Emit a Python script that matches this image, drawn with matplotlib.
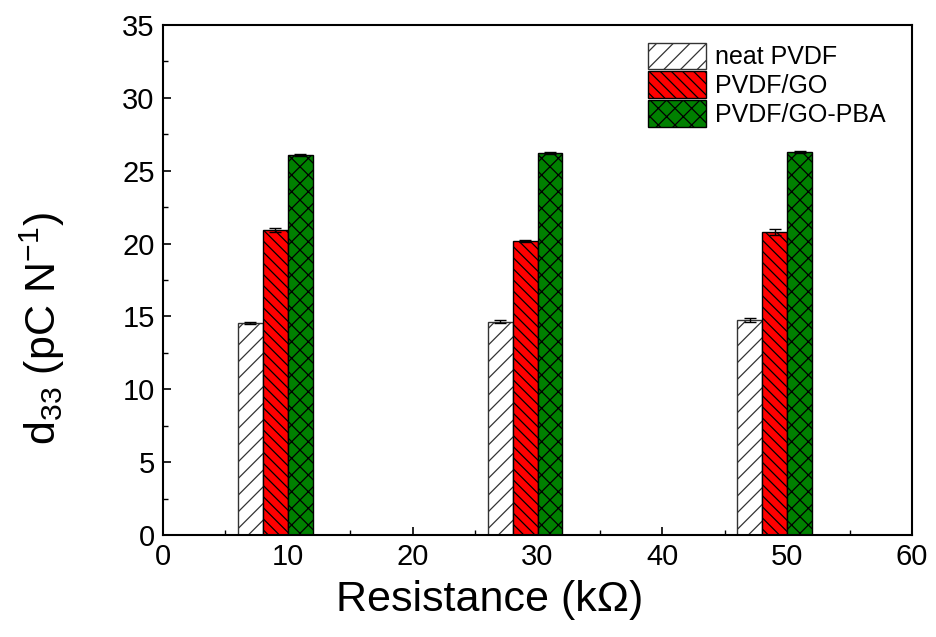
import matplotlib
matplotlib.use("Agg")
import matplotlib.pyplot as plt
import numpy as np

plt.rcParams['font.family'] = ['Liberation Sans', 'DejaVu Sans']
plt.rcParams['mathtext.fontset'] = 'custom'
plt.rcParams['mathtext.rm'] = 'Liberation Sans'
plt.rcParams['mathtext.it'] = 'Liberation Sans'
plt.rcParams['hatch.linewidth'] = 0.9

resistance = [10, 30, 50]
series_names = ['neat PVDF', 'PVDF/GO', 'PVDF/GO-PBA']
neat_pvdf = [14.55, 14.65, 14.75]
pvdf_go = [20.95, 20.2, 20.8]
pvdf_go_pba = [26.1, 26.2, 26.3]
err_neat = [0.08, 0.1, 0.11]
err_go = [0.15, 0.07, 0.2]
err_pba = [0.08, 0.08, 0.08]

fig = plt.figure(figsize=(9.37, 6.37), dpi=100)
ax = fig.add_axes([0.174, 0.1601, 0.7993, 0.8007])

x = np.array(resistance, dtype=float)
w = 2.0
styles = [
    dict(color='white', edgecolor='#333333', hatch='//'),
    dict(color='#ff0000', edgecolor='black', hatch='\\\\\\'),
    dict(color='#008000', edgecolor='black', hatch='xx'),
]
vals = [neat_pvdf, pvdf_go, pvdf_go_pba]
errs = [err_neat, err_go, err_pba]
offsets = [-3, -1, 1]
for name, v, e, off, st in zip(series_names, vals, errs, offsets, styles):
    ax.bar(x + off, v, width=w, label=name, linewidth=1.0,
           facecolor=st['color'], edgecolor=st['edgecolor'], hatch=st['hatch'],
           yerr=e, error_kw=dict(ecolor='black', elinewidth=1.0, capsize=4, capthick=1.0),
           zorder=2)

ax.set_xlim(0, 60)
ax.set_ylim(0, 35)
ax.set_xticks(np.arange(0, 61, 10))
ax.set_yticks(np.arange(0, 36, 5))
ax.set_xticks(np.arange(5, 60, 10), minor=True)
ax.set_yticks(np.arange(2.5, 35, 5), minor=True)
ax.tick_params(axis='both', which='major', direction='in', length=6, width=1.2,
               labelsize=21, pad=6)
ax.tick_params(axis='both', which='minor', direction='in', length=3.5, width=1.0)
for s in ax.spines.values():
    s.set_linewidth(1.5)

ax.set_xlabel('Resistance (k\u03a9)', fontsize=31)
ax.set_ylabel('d$_{33}$ (pC N$^{-1}$)', fontsize=31)
ax.xaxis.set_label_coords(0.4366, -0.089)
ax.yaxis.set_label_coords(-0.128, 0.405)

leg = ax.legend(loc='upper left', frameon=False, fontsize=18,
                handlelength=2.3, handleheight=1.25, handletextpad=0.35,
                labelspacing=0.08, borderaxespad=0.0, borderpad=0.0,
                bbox_to_anchor=(0.648, 0.965))

fig.savefig('out.png', dpi=100)
